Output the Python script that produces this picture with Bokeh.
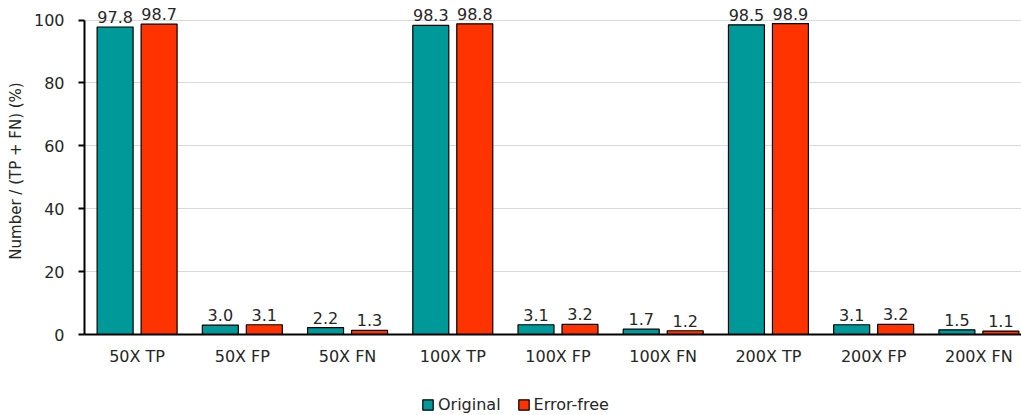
import numpy as np
from bokeh.plotting import figure
from bokeh.layouts import column
from bokeh.models import ColumnDataSource, FixedTicker, LabelSet, Legend, LegendItem, Range1d
from bokeh.core.properties import value
from bokeh.embed import file_html
from bokeh.resources import INLINE

categories = ["50X TP", "50X FP", "50X FN", "100X TP", "100X FP", "100X FN",
              "200X TP", "200X FP", "200X FN"]
original = [97.8, 3.0, 2.2, 98.3, 3.1, 1.7, 98.5, 3.1, 1.5]
error_free = [98.7, 3.1, 1.3, 98.8, 3.2, 1.2, 98.9, 3.2, 1.1]
series_names = ["Original", "Error-free"]
y_ticks = [0, 20, 40, 60, 80, 100]

FONT = "DejaVu Sans"
FS = "16px"
TEXT_COLOR = "#262626"
TEAL = "#009999"
RED = "#FF3300"

centers = np.arange(len(categories)) + 0.5
offset = 0.209
bar_w = 0.342

src_o = ColumnDataSource(dict(x=centers - offset, top=original,
                              lab=[f"{v:.1f}" for v in original]))
src_e = ColumnDataSource(dict(x=centers + offset, top=error_free,
                              lab=[f"{v:.1f}" for v in error_free]))

p = figure(width=1021, height=385, output_backend="svg",
           toolbar_location=None,
           x_range=Range1d(0, 8.905), y_range=Range1d(0, 104),
           min_border_left=84, min_border_right=0, min_border_top=7,
           min_border_bottom=51)
p.outline_line_color = None
p.background_fill_color = "white"

p.vbar(x="x", top="top", width=bar_w, source=src_o, fill_color=TEAL,
       line_color="black", line_width=1.2)
p.vbar(x="x", top="top", width=bar_w, source=src_e, fill_color=RED,
       line_color="black", line_width=1.2)

for src in (src_o, src_e):
    p.add_layout(LabelSet(x="x", y="top", text="lab", source=src,
                          text_align="center", text_baseline="bottom",
                          y_offset=4, text_font=value(FONT),
                          text_font_size=value(FS),
                          text_color=TEXT_COLOR))

# axes
p.xaxis.ticker = FixedTicker(ticks=list(centers))
p.xaxis.major_label_overrides = {float(c): n for c, n in zip(centers, categories)}
p.xaxis.major_tick_line_color = None
p.xaxis.minor_tick_line_color = None
p.xaxis.axis_line_color = "black"
p.xaxis.axis_line_width = 2
p.xaxis.major_label_text_font = FONT
p.xaxis.major_label_text_font_size = FS
p.xaxis.major_label_text_color = TEXT_COLOR
p.xaxis.major_label_standoff = 6

p.yaxis.ticker = FixedTicker(ticks=y_ticks)
p.yaxis.bounds = (0, 100)
p.yaxis.axis_line_color = "black"
p.yaxis.axis_line_width = 2
p.yaxis.major_tick_line_color = "black"
p.yaxis.major_tick_line_width = 2
p.yaxis.major_tick_in = 0
p.yaxis.major_tick_out = 6
p.yaxis.minor_tick_line_color = None
p.yaxis.major_label_text_font = FONT
p.yaxis.major_label_text_font_size = FS
p.yaxis.major_label_text_color = TEXT_COLOR
p.yaxis.major_label_standoff = 14
p.yaxis.axis_label = "Number / (TP + FN) (%)"
p.yaxis.axis_label_text_font = FONT
p.yaxis.axis_label_text_font_size = "15px"
p.yaxis.axis_label_text_font_style = "normal"
p.yaxis.axis_label_text_color = TEXT_COLOR
p.yaxis.axis_label_standoff = 6

p.xgrid.grid_line_color = None
p.ygrid.grid_line_color = "#d9d9d9"
p.ygrid.grid_line_width = 1

# legend strip under the chart (swatch renderers sit outside the visible range)
leg = figure(width=1021, height=30, output_backend="svg", toolbar_location=None,
             x_range=Range1d(0, 1), y_range=Range1d(0, 1),
             min_border=0, outline_line_color=None)
leg.axis.visible = False
leg.grid.visible = False
swatches = []
for color in (TEAL, RED):
    swatches.append(leg.vbar(x=[-5], top=[-5], bottom=[-6], width=0.1,
                             fill_color=color, line_color="black",
                             line_width=1.2))
legend = Legend(items=[LegendItem(label=n, renderers=[r])
                       for n, r in zip(series_names, swatches)],
                orientation="horizontal", location=(337, 1),
                label_text_font=FONT, label_text_font_size=FS,
                label_text_color=TEXT_COLOR, border_line_color=None,
                background_fill_alpha=0, glyph_width=13, glyph_height=13,
                spacing=16, label_standoff=4, padding=0, margin=0)
leg.add_layout(legend)

open("out.html", "w").write(file_html(column(p, leg, spacing=0), INLINE))
